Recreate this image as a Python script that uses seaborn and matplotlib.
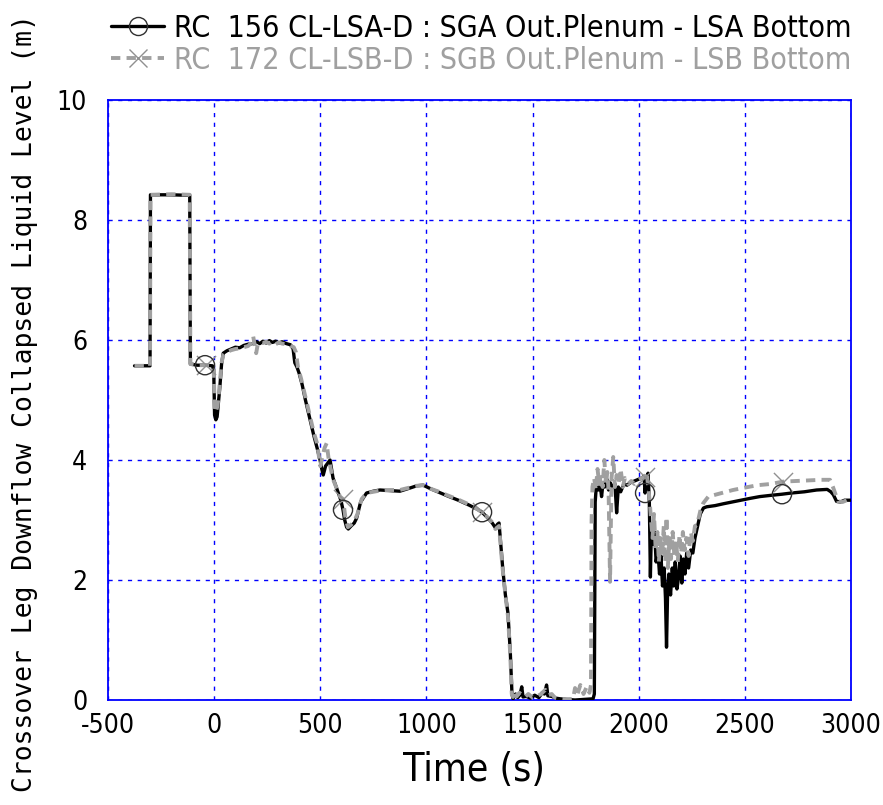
import os
import matplotlib
matplotlib.use("Agg")
import numpy as np
import pandas as pd
import seaborn as sns
import matplotlib.pyplot as plt
from matplotlib.lines import Line2D
from matplotlib import font_manager
from matplotlib.font_manager import FontProperties

# ---------------- data ----------------
time_a = [-375, -302, -300, -200, -115, -112, -80, -43, -8, -2, 2, 8, 14, 20, 27, 35, 43, 60, 80, 100,
          120, 140, 160, 180, 200, 215, 230, 245, 260, 275, 290, 305, 320, 340, 360, 372, 380, 390, 400, 415,
          430, 450, 470, 485, 499, 507, 514, 525, 546, 560, 580, 597, 607, 615, 624, 632, 645, 660, 671, 690,
          718, 750, 781, 830, 875, 920, 954, 985, 1020, 1060, 1100, 1150, 1200, 1240, 1262, 1290, 1310, 1325,
          1335, 1342, 1350, 1360, 1372, 1384, 1395, 1403, 1408, 1420, 1430, 1440, 1449, 1455, 1470, 1490, 1510,
          1530, 1545, 1556, 1566, 1572, 1590, 1610, 1630, 1660, 1700, 1740, 1785, 1791, 1795, 1800, 1810, 1818,
          1825, 1832, 1840, 1850, 1858, 1866, 1876, 1888, 1896, 1904, 1915, 1930, 1945, 1960, 1980, 2000, 2015,
          2025, 2030, 2038, 2044, 2050, 2055, 2060, 2068, 2075, 2082, 2090, 2098, 2105, 2112, 2120, 2126, 2131,
          2136, 2142, 2150, 2158, 2165, 2172, 2180, 2188, 2195, 2203, 2210, 2218, 2226, 2235, 2245, 2255, 2265,
          2273, 2290, 2305, 2320, 2360, 2398, 2440, 2480, 2524, 2570, 2620, 2675, 2720, 2780, 2838, 2888, 2905,
          2917, 2932, 2950, 2970, 3000]
level_a = [5.57, 5.57, 8.42, 8.42, 8.41, 5.60, 5.58, 5.58, 5.57, 5.50, 4.75, 4.67, 4.72, 4.95, 5.22, 5.60, 5.78, 5.82, 5.85, 5.88,
           5.87, 5.91, 5.93, 5.94, 5.97, 5.94, 5.98, 5.95, 5.99, 5.96, 5.98, 5.95, 5.97, 5.94, 5.92, 5.85, 5.62, 5.55, 5.45, 5.25,
           5.00, 4.70, 4.40, 4.20, 4.00, 3.85, 3.75, 3.90, 4.00, 3.70, 3.50, 3.33, 3.17, 3.00, 2.88, 2.85, 2.90, 2.95, 3.03, 3.30,
           3.45, 3.48, 3.50, 3.49, 3.48, 3.53, 3.57, 3.58, 3.52, 3.46, 3.40, 3.33, 3.25, 3.18, 3.13, 3.03, 2.95, 2.87,
           2.93, 2.95, 2.60, 2.17, 1.75, 1.45, 0.80, 0.10, 0.02, 0.10, 0.04, 0.08, 0.22, 0.05, 0.06, 0.03, 0.08,
           0.04, 0.12, 0.10, 0.25, 0.07, 0.06, 0.03, 0.02, 0.01, 0.00, 0.01, 0.02, 0.10, 3.30, 3.55, 3.50, 3.60,
           3.39, 3.62, 3.55, 3.68, 3.50, 3.62, 3.55, 3.60, 3.12, 3.55, 3.47, 3.60, 3.58, 3.62, 3.65, 3.68, 3.70,
           3.73, 3.45, 3.72, 3.78, 3.30, 2.05, 2.90, 2.60, 2.80, 2.30, 2.50, 2.10, 2.40, 1.90, 2.20, 1.70, 0.88,
           1.80, 2.10, 1.75, 2.20, 1.90, 2.30, 1.85, 2.05, 2.40, 1.95, 2.35, 2.10, 2.45, 2.20, 2.50, 2.45, 2.70,
           2.83, 3.10, 3.20, 3.22, 3.24, 3.27, 3.30, 3.33, 3.36, 3.39, 3.41, 3.43, 3.45, 3.47, 3.50, 3.51, 3.47,
           3.42, 3.31, 3.30, 3.33, 3.33]

time_b = [-375, -302, -300, -200, -115, -112, -80, -38, -8, -2, 3, 10, 16, 22, 28, 35, 43, 60, 80, 100,
          120, 140, 160, 175, 184, 192, 198, 205, 215, 230, 245, 260, 275, 290, 305, 320, 340, 360, 375, 385,
          395, 410, 430, 450, 470, 483, 490, 500, 510, 520, 530, 540, 561, 593, 607, 618, 630, 645, 660, 675,
          695, 718, 750, 781, 830, 875, 920, 954, 985, 1020, 1060, 1100, 1150, 1200, 1240, 1262, 1290, 1310,
          1325, 1335, 1342, 1350, 1360, 1372, 1384, 1395, 1402, 1408, 1415, 1425, 1438, 1450, 1465, 1480, 1500,
          1520, 1540, 1560, 1575, 1590, 1605, 1630, 1660, 1691, 1700, 1710, 1725, 1740, 1755, 1768, 1775, 1778,
          1782, 1790, 1798, 1806, 1814, 1822, 1830, 1838, 1846, 1852, 1858, 1865, 1872, 1880, 1888, 1896, 1905,
          1915, 1925, 1935, 1950, 1965, 1980, 2000, 2015, 2030, 2037, 2045, 2052, 2058, 2065, 2072, 2080, 2088,
          2095, 2102, 2110, 2118, 2125, 2131, 2137, 2145, 2152, 2160, 2168, 2176, 2184, 2192, 2200, 2208, 2216,
          2225, 2235, 2245, 2255, 2265, 2275, 2290, 2304, 2328, 2380, 2444, 2500, 2560, 2620, 2681, 2740, 2800,
          2860, 2901, 2915, 2939, 2960, 2980, 3000]
level_b = [5.57, 5.57, 8.42, 8.43, 8.42, 5.60, 5.58, 5.58, 5.57, 5.50, 4.80, 4.83, 4.90, 5.10, 5.35, 5.62, 5.75, 5.80, 5.83, 5.85,
           5.86, 5.88, 5.90, 5.95, 6.06, 5.90, 5.78, 5.92, 5.96, 5.95, 5.97, 5.94, 5.97, 5.93, 5.96, 5.94, 5.93, 5.90, 5.88, 5.80,
           5.55, 5.35, 5.05, 4.75, 4.45, 4.30, 4.15, 3.90, 4.05, 4.20, 4.28, 4.00, 3.67, 3.39, 3.35, 3.05, 2.88, 2.92, 2.98, 3.10,
           3.35, 3.45, 3.47, 3.49, 3.50, 3.50, 3.54, 3.57, 3.58, 3.52, 3.47, 3.41, 3.34, 3.26, 3.18, 3.13, 3.04, 2.96,
           2.85, 2.88, 2.90, 2.55, 2.15, 1.75, 1.40, 0.75, 0.10, 0.05, 0.15, 0.06, 0.12, 0.08, 0.05, 0.10, 0.04,
           0.06, 0.10, 0.17, 0.08, 0.10, 0.04, 0.02, 0.01, 0.02, 0.20, 0.08, 0.25, 0.10, 0.22, 0.12, 0.25, 3.00,
           3.55, 3.70, 3.50, 3.85, 3.60, 3.75, 3.55, 4.00, 3.60, 3.80, 3.50, 1.97, 3.70, 4.05, 3.55, 3.75, 3.60,
           3.85, 3.55, 3.70, 3.60, 3.65, 3.60, 3.67, 3.70, 3.72, 3.80, 3.55, 3.30, 3.00, 2.70, 3.10, 2.50, 2.80,
           2.30, 2.70, 2.40, 2.90, 2.30, 3.05, 2.20, 2.70, 2.35, 2.80, 2.40, 2.65, 2.30, 2.75, 2.45, 2.80, 2.50,
           2.70, 2.40, 2.80, 2.65, 2.90, 2.92, 3.15, 3.28, 3.39, 3.44, 3.50, 3.54, 3.58, 3.60, 3.64, 3.65, 3.66,
           3.67, 3.67, 3.55, 3.31, 3.30, 3.33, 3.33]

marker_times_a = [-43, 607, 1262, 2030, 2675]
marker_times_b = [-38, 607, 1262, 2030, 2681]

labels = ["RC  156 CL-LSA-D : SGA Out.Plenum - LSA Bottom",
          "RC  172 CL-LSB-D : SGB Out.Plenum - LSB Bottom"]
x_ticks = [-500, 0, 500, 1000, 1500, 2000, 2500, 3000]
y_ticks = [0, 2, 4, 6, 8, 10]
x_label = "Time (s)"
y_label = "Crossover Leg Downflow Collapsed Liquid Level (m)"

# ---------------- fonts ----------------
sns.set_theme(style="white")
plt.rcParams["font.family"] = ["Liberation Sans", "DejaVu Sans"]


def find_narrow():
    files = [f for f in font_manager.fontManager.ttflist]
    wanted = ["liberationsansnarrow-regular", "dejavusanscondensed.", "notosans-condensed.",
              "notosans-semicondensed.", "robotocondensed-regular", "roboto_condensed-regular",
              "opensans_condensed-regular", "opensans-condensedregular", "opensanscondensed-regular",
              "inter_18pt-regular"]
    for w in wanted:
        for f in files:
            if os.path.basename(f.fname).lower().startswith(w):
                return f.fname
    for f in files:
        if (f.stretch in ("condensed", "semi-condensed", "extra-condensed")
                and f.style == "normal" and f.weight in (400, "normal", "regular")
                and "mono" not in f.name.lower() and "serif" not in f.name.lower()):
            return f.fname
    return None


narrow_file = find_narrow()
if narrow_file:
    def fp(size):
        return FontProperties(fname=narrow_file, size=size)
    scale = 1.0
else:
    def fp(size):
        return FontProperties(family=["Liberation Sans", "DejaVu Sans"], size=size)
    scale = 0.92

BLACK = "#000000"
GRAY = "#a0a0a0"
BLUE = "#0000ff"

fig = plt.figure(figsize=(8.83, 8.05), dpi=100)
ax = fig.add_axes([108 / 883, 1 - 700 / 805, 743 / 883, 600 / 805])

df_a = pd.DataFrame({"t": time_a, "y": level_a})
df_b = pd.DataFrame({"t": time_b, "y": level_b})

sns.lineplot(data=df_a, x="t", y="y", ax=ax, color=BLACK, linewidth=2.4,
             estimator=None, sort=False, zorder=3)
sns.lineplot(data=df_b, x="t", y="y", ax=ax, color=GRAY, linewidth=2.8,
             estimator=None, sort=False, zorder=4)
ax.lines[-1].set_linestyle((0, (2.4, 1.6)))

mk_a = pd.DataFrame({"t": marker_times_a, "y": np.interp(marker_times_a, time_a, level_a)})
mk_b = pd.DataFrame({"t": marker_times_b, "y": np.interp(marker_times_b, time_b, level_b)})
sns.scatterplot(data=mk_b, x="t", y="y", ax=ax, marker="x", s=190, color="#909090",
                linewidth=1.0, zorder=5)
sns.scatterplot(data=mk_a, x="t", y="y", ax=ax, marker="o", s=190, facecolors="none",
                edgecolor="#303030", linewidth=1.0, zorder=6)

ax.set_xlim(-500, 3000)
ax.set_ylim(0, 10)
ax.set_xticks(x_ticks)
ax.set_yticks(y_ticks)
ax.set_xticklabels([str(v) for v in x_ticks], fontproperties=fp(19 * scale))
ax.set_yticklabels([str(v) for v in y_ticks], fontproperties=fp(19 * scale))
ax.grid(True, color=BLUE, linestyle=(0, (3, 4)), linewidth=1.0, zorder=0)
ax.set_axisbelow(True)
for s in ax.spines.values():
    s.set_color(BLUE)
    s.set_linewidth(1.3)
    s.set_visible(True)
ax.tick_params(axis="both", direction="in", length=6, width=1, color=BLUE, labelcolor="black")
ax.tick_params(axis="y", pad=15)
ax.tick_params(axis="x", pad=9)

ax.set_xlabel(x_label, fontproperties=fp(28 * scale), color="black")
ax.xaxis.set_label_coords(0.4926, -0.085)
ax.set_ylabel(y_label, fontsize=19, family=["DejaVu Sans Mono", "DejaVu Sans"], color="black")
ax.yaxis.set_label_coords(-0.094, 0.495)

# legend font sized so the first label spans ~680 px as in the reference
renderer = fig.canvas.get_renderer()
probe = fig.text(0, 0, labels[0], fontproperties=fp(22))
w = probe.get_window_extent(renderer).width
probe.remove()
leg_size = min(22 * 680.0 / w, 24)

handles = [
    Line2D([], [], color=BLACK, lw=2.4, marker="o", ms=13, mfc="none", mec="#303030", mew=1.0),
    Line2D([], [], color=GRAY, lw=2.8, linestyle=(0, (2.4, 1.6)), marker="x", ms=13,
           mec="#909090", mew=1.0),
]
fig.legend(handles, labels, loc="upper left", bbox_to_anchor=(111 / 883, 1 - 14 / 805),
           frameon=False, prop=fp(leg_size), handlelength=1.75 * 22 / leg_size,
           handletextpad=0.3, labelspacing=0.1 * 22 / leg_size, borderaxespad=0,
           borderpad=0, labelcolor=[BLACK, GRAY])

fig.savefig("out.png", dpi=100)
